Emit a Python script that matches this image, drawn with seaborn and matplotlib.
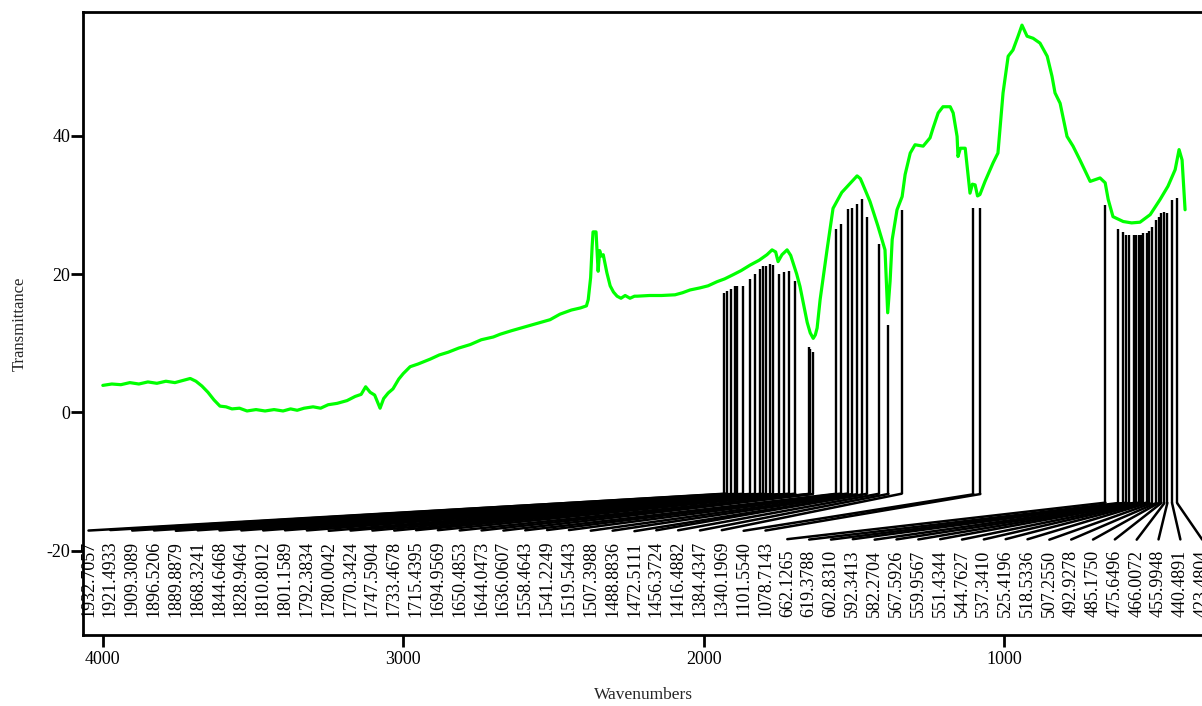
import numpy as np
import pandas as pd
import matplotlib
matplotlib.use("Agg")
import matplotlib.pyplot as plt
import seaborn as sns

# ---------------- data ----------------
spec_wn = [4000, 3970, 3940, 3910, 3880, 3850, 3820, 3790, 3760, 3735, 3709, 3690, 3670, 3650,
           3630, 3610, 3590, 3570, 3545, 3520, 3490, 3460, 3430, 3400, 3375, 3353, 3330, 3300,
           3275, 3250, 3220, 3187, 3160, 3140, 3125, 3110, 3095, 3077, 3065, 3050, 3034, 3015,
           3000, 2977, 2950, 2910, 2880, 2850, 2815, 2777, 2740, 2700, 2677, 2640, 2600, 2560,
           2511, 2478, 2440, 2410, 2390, 2384, 2376, 2371, 2368, 2358, 2351, 2346, 2341, 2334,
           2322, 2311, 2300, 2288, 2275, 2261, 2245, 2230, 2221, 2180, 2140, 2095, 2070, 2045,
           2012, 1985, 1955, 1930, 1902, 1875, 1845, 1815, 1789, 1772, 1760, 1752, 1739, 1722,
           1710, 1702, 1690, 1679, 1667, 1655, 1645, 1635, 1628, 1622, 1612, 1595, 1589, 1569,
           1540, 1510, 1489, 1478, 1472, 1446, 1420, 1396, 1387, 1379, 1372, 1356, 1339, 1329,
           1312, 1296, 1269, 1246, 1236, 1219, 1203, 1179, 1169, 1156, 1153, 1145, 1129, 1113,
           1105, 1096, 1088, 1080, 1063, 1036, 1020, 1003, 986, 970, 953, 940, 923, 903, 880,
           856, 840, 830, 813, 790, 770, 747, 713, 680, 663, 653, 637, 603, 575, 547, 513, 480,
           454, 430, 417, 407, 397]
spec_t = [3.9, 4.1, 4.0, 4.3, 4.1, 4.4, 4.2, 4.5, 4.3, 4.6, 4.9, 4.5, 3.8, 2.9,
          1.8, 0.9, 0.8, 0.5, 0.6, 0.2, 0.4, 0.2, 0.4, 0.2, 0.5, 0.3, 0.6, 0.8,
          0.6, 1.1, 1.3, 1.7, 2.3, 2.6, 3.7, 2.9, 2.5, 0.6, 2.0, 2.8, 3.4, 4.8,
          5.6, 6.6, 7.0, 7.7, 8.3, 8.7, 9.3, 9.8, 10.5, 10.9, 11.3, 11.8, 12.3, 12.8,
          13.4, 14.2, 14.8, 15.1, 15.4, 16.3, 19.5, 24.0, 26.1, 26.1, 20.4, 23.4, 22.6, 22.8,
          20.2, 18.3, 17.4, 16.8, 16.5, 16.9, 16.5, 16.8, 16.8, 16.9, 16.9, 17.0, 17.3, 17.7,
          18.0, 18.3, 18.9, 19.3, 19.9, 20.5, 21.3, 22.0, 22.8, 23.5, 23.2, 21.8, 22.8, 23.5,
          22.7, 21.6, 20.0, 18.2, 15.6, 13.0, 11.5, 10.7, 11.2, 12.2, 16.3, 21.6, 23.5, 29.5,
          31.8, 33.2, 34.2, 33.8, 33.2, 30.5, 27.0, 23.5, 14.4, 19.0, 25.0, 29.3, 31.2, 34.4,
          37.5, 38.7, 38.5, 39.7, 41.1, 43.3, 44.2, 44.2, 43.3, 39.9, 37.0, 38.2, 38.2, 31.7,
          33.0, 32.9, 31.3, 31.5, 33.4, 36.1, 37.5, 46.2, 51.5, 52.4, 54.4, 56.0, 54.4, 54.1, 53.4,
          51.5, 48.6, 46.2, 44.7, 39.9, 38.5, 36.5, 33.4, 33.9, 33.2, 30.8, 28.3, 27.6, 27.4, 27.5, 28.6, 30.8,
          32.7, 35.1, 38.0, 36.5, 29.3]

peak_wn = [1932.7057, 1921.4933, 1909.3089, 1896.5206, 1889.8879, 1868.3241, 1844.6468,
           1828.9464, 1810.8012, 1801.1589, 1792.3834, 1780.0042, 1770.3424, 1747.5904,
           1733.4678, 1715.4395, 1694.9569, 1650.4853, 1644.0473, 1636.0607, 1558.4643,
           1541.2249, 1519.5443, 1507.3988, 1488.8836, 1472.5111, 1456.3724, 1416.4882,
           1384.4347, 1340.1969, 1101.5540, 1078.7143, 662.1265, 619.3788, 602.8310,
           592.3413, 582.2704, 567.5926, 559.9567, 551.4344, 544.7627, 537.3410, 525.4196,
           518.5336, 507.2550, 492.9278, 485.1750, 475.6496, 466.0072, 455.9948, 440.4891,
           423.4804]
peak_top = [17.3, 17.6, 17.9, 18.3, 18.3, 18.3, 19.3, 20.0, 20.7, 21.1, 21.2, 21.5, 21.3,
            20.0, 20.3, 20.4, 19.0, 9.5, 9.1, 8.8, 26.5, 27.3, 29.4, 29.6, 30.2, 30.8, 28.2,
            24.4, 12.6, 29.2, 29.5, 29.5,
            30.0, 26.5, 26.1, 25.7, 25.6, 25.7, 25.7, 25.7, 25.7, 25.9, 26.0, 26.2, 26.8,
            27.8, 28.3, 28.8, 29.0, 28.9, 30.7, 31.0]
peak_labels = [f"{v:.4f}" for v in peak_wn]

x_ticks = [4000, 3000, 2000, 1000]
y_ticks = [-20, 0, 20, 40]

# ---------------- style ----------------
sns.set_theme(style="white")
plt.rcParams['font.family'] = ['Liberation Serif', 'DejaVu Serif']
plt.rcParams['axes.unicode_minus'] = False

W, H = 1202, 706
fig = plt.figure(figsize=(W / 100, H / 100), dpi=100)
ax = fig.add_axes([83 / W, 71 / H, 1121 / W, 623 / H])
ax.set_xlim(4066, 334)
ax.set_ylim(-32.2, 57.9)

spec = pd.DataFrame({"Wavenumbers": spec_wn, "Transmittance": spec_t})
sns.lineplot(data=spec, x="Wavenumbers", y="Transmittance", ax=ax, color="#00ff00",
             lw=2.3, sort=False, estimator=None, zorder=5)

for s in ["left", "top", "bottom"]:
    ax.spines[s].set_color("black")
    ax.spines[s].set_linewidth(2.0)
ax.spines["right"].set_visible(False)

ax.set_xticks(x_ticks)
ax.set_yticks(y_ticks)
ax.tick_params(axis="both", which="major", direction="out", length=8.5, width=2.0,
               colors="black", labelsize=13, bottom=True, left=True)
ax.tick_params(axis="x", pad=3)
ax.tick_params(axis="y", pad=0.5)

ax.set_xlabel("Wavenumbers", fontsize=12.5, va="center")
ax.set_ylabel("Transmittance", fontsize=12, va="center")
ax.xaxis.set_label_coords(0.5, -0.0963)
ax.yaxis.set_label_coords((20 - 83) / 1121, 0.5)

# peak labels evenly spread along the bottom of the axes
x0, x1 = ax.get_xlim()
span = x0 - x1
n = len(peak_wn)
label_x = np.linspace(x0 - 0.0049 * span, x1 + 0.0016 * span, n)
label_base = -29.55

texts = []
for lx, lab in zip(label_x, peak_labels):
    t = ax.text(lx, label_base, lab, rotation=90, ha="center", va="bottom",
                fontsize=13, color="black", clip_on=False)
    texts.append(t)

fig.canvas.draw()
renderer = fig.canvas.get_renderer()
inv = ax.transData.inverted()
px_per_y = ax.transData.transform((0, 1))[1] - ax.transData.transform((0, 0))[1]

for wn, top, lx, t in zip(peak_wn, peak_top, label_x, texts):
    bb = t.get_window_extent(renderer)
    label_top = inv.transform((bb.x0, bb.y1))[1]
    conn_end = label_top + 10 / px_per_y
    v_bottom = conn_end + 36.5 / px_per_y
    ax.plot([wn, wn], [top, v_bottom], color="black", lw=1.7, solid_capstyle="butt", zorder=3)
    ax.plot([wn, lx], [v_bottom, conn_end], color="black", lw=1.8, zorder=3)

fig.savefig("out.png", dpi=100)
